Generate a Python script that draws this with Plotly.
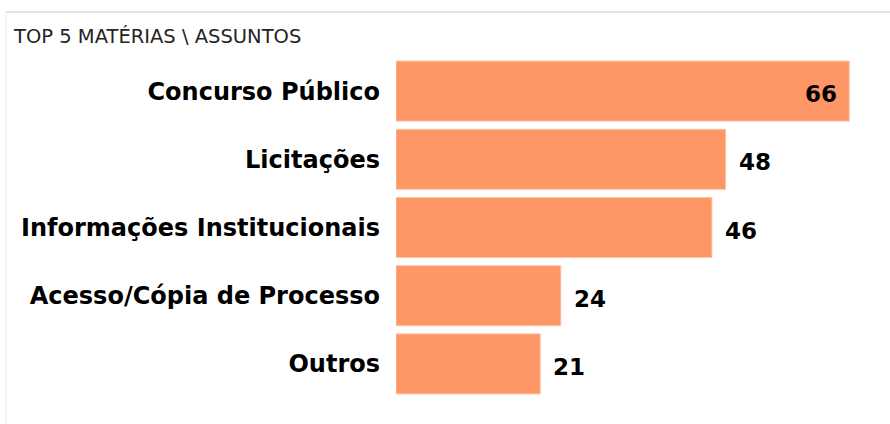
import plotly.graph_objects as go

categories = ["Concurso Público", "Licitações", "Informações Institucionais",
              "Acesso/Cópia de Processo", "Outros"]
values = [66, 48, 46, 24, 21]
title_text = "TOP 5 MATÉRIAS \\ ASSUNTOS"

BAR_COLOR = "#FE9666"
FONT_BOLD = "DejaVu Sans, Liberation Sans, Arial, sans-serif"

fig = go.Figure()
fig.add_trace(go.Bar(
    x=values, y=categories, orientation="h",
    marker=dict(color=BAR_COLOR, line=dict(color="#FFC2A6", width=1)),
    hoverinfo="x+y",
))

vmax = max(values)
for c, v in zip(categories, values):
    inside = v == vmax
    fig.add_annotation(
        x=v, y=c, xref="x", yref="y", text=f"<b>{v}</b>", showarrow=False,
        xanchor="right" if inside else "left",
        xshift=-10 if inside else 11, yshift=-3,
        font=dict(family=FONT_BOLD, size=23, color="#000000"),
    )

line_col = "#DCE4EE"
fig.add_shape(type="line", xref="paper", yref="paper", xsizemode="pixel", ysizemode="pixel",
              xanchor=0, yanchor=1, x0=-390, x1=494, y0=45, y1=45,
              line=dict(color=line_col, width=2))
fig.add_shape(type="line", xref="paper", yref="paper", xsizemode="pixel", ysizemode="pixel",
              xanchor=0, yanchor=1, x0=-390, x1=-390, y0=45, y1=-367,
              line=dict(color="#E8EEF5", width=1))

fig.update_layout(
    width=890, height=424,
    margin=dict(l=396, r=27, t=57, b=26),
    paper_bgcolor="white", plot_bgcolor="white",
    bargap=0.12,
    showlegend=False,
    title=dict(text=title_text, x=14/890, xanchor="left", xref="container",
               y=1 - 36/424, yanchor="middle", yref="container",
               font=dict(family="DejaVu Sans, sans-serif", size=19.5, color="#252423")),
    xaxis=dict(range=[0, 68], visible=False, fixedrange=True),
    yaxis=dict(autorange="reversed", showgrid=False, showline=False, zeroline=False,
               ticks="", ticklabelstandoff=15,
               tickfont=dict(family=FONT_BOLD, size=24, color="#000000")),
)
fig.update_yaxes(tickprefix="<b>", ticksuffix="</b>")

fig.write_html("out.html")
